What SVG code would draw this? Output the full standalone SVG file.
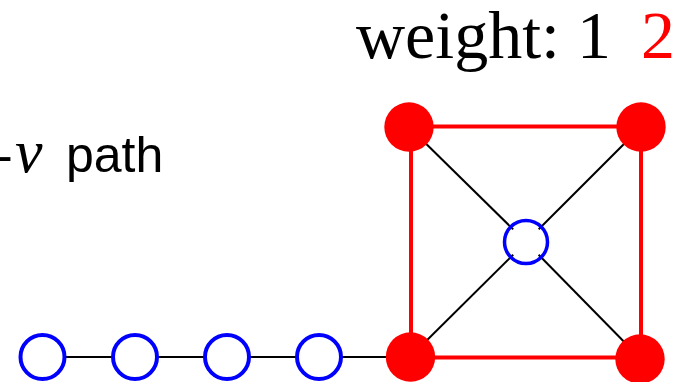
<svg xmlns="http://www.w3.org/2000/svg" width="685" height="382" viewBox="0 0 685 382">
<style>
.blk{stroke:#000;stroke-width:2;fill:none}
.red{stroke:#ff0000;stroke-width:4;fill:none}
.bn{fill:#fff;stroke:#0000ff;stroke-width:4}
.rn{fill:#ff0000;stroke:none}
.serif{font-family:"Liberation Serif","Times New Roman",serif}
.sans{font-family:"Liberation Sans",Arial,sans-serif}
</style>
<rect width="685" height="382" fill="#fff"/>
<g id="labels">
<text class="serif" x="356" y="58" font-size="68" fill="#000">weight: 1<tspan x="641" fill="#ff0000">2</tspan></text>
<text y="172" font-size="50" fill="#000"><tspan class="sans" x="-4">-</tspan><tspan class="serif" x="15" font-style="italic" font-size="62">v</tspan><tspan class="sans" x="66">path</tspan></text>
</g>
<g id="connectors">
<line class="blk" x1="42" y1="357" x2="410" y2="357" stroke-width="2.5"/>
<line class="blk" x1="409" y1="127" x2="513.2" y2="229.4"/>
<line class="blk" x1="641" y1="127" x2="538.7" y2="229.3"/>
<line class="blk" x1="410" y1="357" x2="513.2" y2="254.7"/>
<line class="blk" x1="640" y1="358" x2="538.6" y2="254.8"/>
<line class="red" x1="409" y1="126.5" x2="641" y2="126.5"/>
<line class="red" x1="411" y1="127" x2="411" y2="357"/>
<line class="red" x1="641" y1="127" x2="641" y2="358"/>
<line class="red" x1="410" y1="357.5" x2="640" y2="357.5"/>
</g>
<g id="p1"><circle class="bn" cx="42.5" cy="357" r="22"/></g>
<g id="p2"><circle class="bn" cx="135" cy="357" r="22"/></g>
<g id="p3"><circle class="bn" cx="227" cy="357" r="22"/></g>
<g id="p4"><circle class="bn" cx="319" cy="357" r="22"/></g>
<g id="center"><circle cx="526" cy="242" r="21.5" fill="none" stroke="#0000ff" stroke-width="3.5"/></g>
<g id="tl"><circle class="rn" cx="409" cy="127" r="24.7"/></g>
<g id="tr"><circle class="rn" cx="641" cy="127" r="24.7"/></g>
<g id="bl"><circle class="rn" cx="410.5" cy="357" r="24.7"/></g>
<g id="br"><circle class="rn" cx="640" cy="359" r="24.7"/></g>
</svg>
